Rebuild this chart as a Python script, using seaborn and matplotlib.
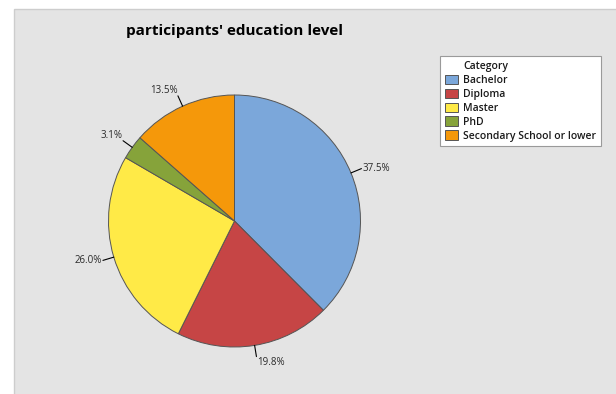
import numpy as np
import matplotlib
matplotlib.use("Agg")
import matplotlib.pyplot as plt
from matplotlib.patches import Rectangle, Patch
import seaborn as sns

categories = ["Bachelor", "Diploma", "Master", "PhD", "Secondary School or lower"]
percents = [37.5, 19.8, 26.0, 3.1, 13.5]
title = "participants' education level"
legend_title = "Category"

sns.set_theme(style="white")
plt.rcParams["font.family"] = ["Open Sans", "DejaVu Sans"]

colors = ["#7BA7DA", "#C64545", "#FFEA47", "#86A33A", "#F5980A"]

W, H = 616, 394
fig = plt.figure(figsize=(W / 100, H / 100), dpi=100, facecolor="white")
fig.add_artist(Rectangle((14 / W, -0.01), 1.0, (H - 9) / H + 0.01, transform=fig.transFigure,
                         facecolor="#e4e4e4", edgecolor="#cdcdcd", lw=1.0, zorder=-10))

# pie axes
cx, cy, r = 234.5, H - 221, 126
lim = 1.3
half = lim * r
ax = fig.add_axes([(cx - half) / W, (cy - half) / H, 2 * half / W, 2 * half / H])
ax.set_facecolor("none")
wedges, _ = ax.pie(percents, colors=colors, startangle=90, counterclock=False,
                   wedgeprops=dict(edgecolor="#555555", linewidth=0.7))
ax.set_xlim(-lim, lim)
ax.set_ylim(-lim, lim)
ax.set_aspect("equal")
ax.axis("off")

for w, p in zip(wedges, percents):
    ang = np.deg2rad((w.theta1 + w.theta2) / 2)
    c, s = np.cos(ang), np.sin(ang)
    r0, r1 = 1.0, 1.09
    ax.plot([r0 * c, r1 * c], [r0 * s, r1 * s], color="black", lw=0.8, clip_on=False)
    ha = "left" if c > 0 else "right"
    if abs(s) < 0.5:
        va = "center"
    else:
        va = "bottom" if s > 0 else "top"
    ax.text(r1 * c + (0.005 if c > 0 else -0.005), r1 * s, f"{p:.1f}%", ha=ha, va=va,
            fontsize=7, color="#2a2a2a", clip_on=False)

fig.text(234 / W, 1 - 31 / H, title, ha="center", va="center", fontsize=11,
         fontweight="bold", color="black")

handles = [Patch(visible=False)] + [Patch(facecolor=col, edgecolor="#555555", linewidth=0.7)
                                     for col in colors]
labels = [legend_title] + categories
leg = fig.legend(handles, labels, loc="upper left",
                 bbox_to_anchor=(440 / W, 1 - 56 / H), frameon=True, fancybox=False,
                 framealpha=1.0, fontsize=7.5, handlelength=1.3, handleheight=1.0,
                 handletextpad=0.5, labelspacing=0.26, borderpad=0.45, borderaxespad=0)
leg.get_frame().set_edgecolor("#9a9a9a")
leg.get_frame().set_linewidth(0.8)
leg.get_frame().set_facecolor("white")
for t in leg.get_texts():
    t.set_fontweight("semibold")
    t.set_color("#1a1a1a")

fig.savefig("out.png", dpi=100, facecolor="white")
